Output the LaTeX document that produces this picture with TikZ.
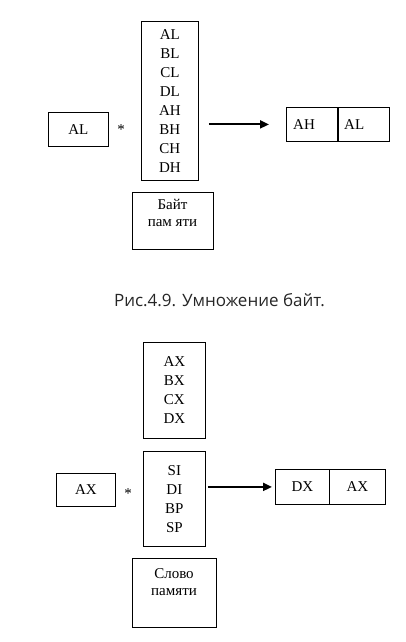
\documentclass[tikz,border=0pt]{standalone}
\usepackage{fontspec}
\setmainfont{Liberation Serif}
\newfontfamily\capfont{Open Sans}
\usetikzlibrary{arrows.meta}
\begin{document}
\begin{tikzpicture}[x=1pt,y=-1pt,
  box/.style={draw,line width=0.8pt,inner sep=0pt,anchor=north west},
  reg/.style={font=\fontsize{15}{19}\selectfont,align=center,inner sep=0pt},
  mem/.style={font=\fontsize{15}{17.5}\selectfont,align=center,inner sep=0pt},
  arr/.style={line width=2pt,-{Triangle[length=9pt,width=8pt]}}]
\useasboundingbox (0,0) rectangle (406,642);

% ---------- top: byte multiply ----------
\node[box,minimum width=57pt,minimum height=159pt] (col1) at (141,21) {};
\node[reg] (col1t) at (col1.center) {AL\\BL\\CL\\DL\\AH\\BH\\CH\\DH};
\node[box,minimum width=60pt,minimum height=34pt] (al1) at (48,112) {};
\node[reg] (al1t) at (al1.center) {AL};
\node[reg] (st1) at (121,130) {*};
\node[box,minimum width=81pt,minimum height=57pt] (byte) at (132,192) {};
\node[mem] (bytet) at (172.5,213) {Байт\\пам яти};
\node[box,minimum width=51pt,minimum height=34pt] (r1a) at (286,107) {};
\node[box,minimum width=52pt,minimum height=34pt] (r1b) at (337,107) {};
\draw[line width=1.6pt] (r1a.north east) -- (r1a.south east);
\node[reg,anchor=west] (r1at) at ([xshift=7pt]r1a.west) {AH};
\node[reg,anchor=west] (r1bt) at ([xshift=7pt]r1b.west) {AL};
\draw[arr] ([xshift=10pt]col1.east |- r1a.west) -- ([xshift=-17pt]r1a.west);

% ---------- caption ----------
\node[font=\capfont\fontsize{17}{20}\selectfont,text=black!85,inner sep=0pt] (cap) at (219.5,300) {Рис.4.9. Умножение байт.};

% ---------- bottom: word multiply ----------
\node[box,minimum width=62pt,minimum height=96pt] (colA) at (143,342) {};
\node[reg] (colAt) at (colA.center) {AX\\BX\\CX\\DX};
\node[box,minimum width=62pt,minimum height=95pt] (colB) at (143,451) {};
\node[reg] (colBt) at (colB.center) {SI\\DI\\BP\\SP};
\node[box,minimum width=59pt,minimum height=33pt] (ax2) at (56,473) {};
\node[reg] (ax2t) at (ax2.center) {AX};
\node[reg] (st2) at (128,494) {*};
\node[box,minimum width=84pt,minimum height=69pt] (word) at (132,558) {};
\node[mem] (wordt) at (174,582) {Слово\\памяти};
\node[box,minimum width=54pt,minimum height=35pt] (r2a) at (275,469) {};
\node[box,minimum width=56pt,minimum height=35pt] (r2b) at (329,469) {};
\node[reg] (r2at) at (r2a.center) {DX};
\node[reg] (r2bt) at (r2b.center) {AX};
\draw[arr] ([xshift=2pt]colB.east |- r2a.west) -- ([xshift=-3pt]r2a.west);
\end{tikzpicture}
\end{document}
